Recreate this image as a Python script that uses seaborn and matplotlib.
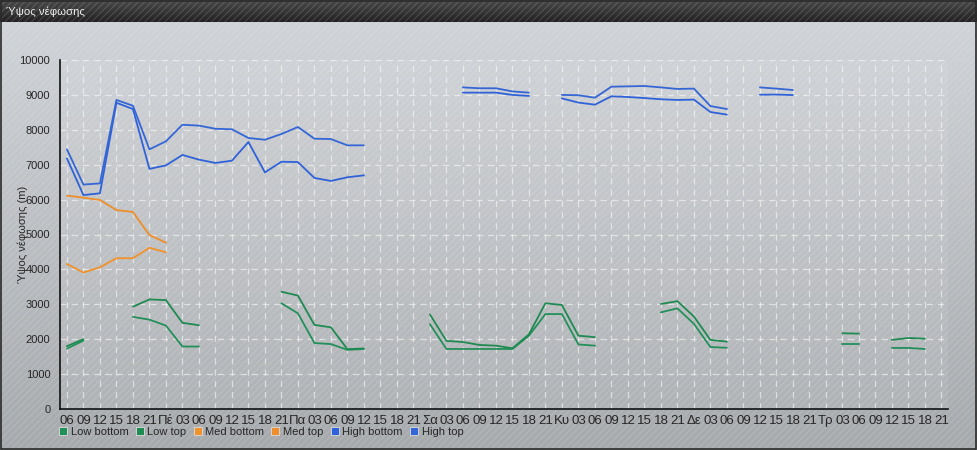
import numpy as np
import pandas as pd
import seaborn as sns
import matplotlib.pyplot as plt
from matplotlib.lines import Line2D
from matplotlib.patches import Rectangle

# 3-hourly slots, first day starts at 06
slot_labels = ['06', '09', '12', '15', '18', '21',
               'Πέ', '03', '06', '09', '12', '15', '18', '21',
               'Πα', '03', '06', '09', '12', '15', '18', '21',
               'Σα', '03', '06', '09', '12', '15', '18', '21',
               'Κυ', '03', '06', '09', '12', '15', '18', '21',
               'Δε', '03', '06', '09', '12', '15', '18', '21',
               'Τρ', '03', '06', '09', '12', '15', '18', '21']

N = None
low_bottom = [1730, 1960, N, N, 2640, 2560,
              2390, 1790, 1790, N, N, N, N, 3030,
              2740, 1890, 1860, 1695, 1720, N, N, N,
              2430, 1720, 1720, 1720, 1720, 1720, 2100, 2720,
              2720, 1850, 1815, N, N, N, 2770, 2885,
              2440, 1775, 1755, N, N, N, N, N,
              N, 1875, 1875, N, 1750, 1750, 1720, N]
low_top = [1800, 2000, N, N, 2930, 3140,
           3120, 2470, 2400, N, N, N, N, 3360,
           3250, 2410, 2340, 1715, 1735, N, N, N,
           2710, 1950, 1920, 1835, 1815, 1740, 2140, 3030,
           2980, 2100, 2060, N, N, N, 3010, 3090,
           2650, 1980, 1930, N, N, N, N, N,
           N, 2170, 2160, N, 1980, 2035, 2015, N]
med_bottom = [4155, 3910, 4060, 4320, 4320, 4620,
              4490, N, N, N, N, N, N, N] + [N] * 40
med_top = [6115, 6055, 5990, 5700, 5645, 4985,
           4765, N, N, N, N, N, N, N] + [N] * 40
high_bottom = [7180, 6130, 6180, 8775, 8595, 6880,
               6980, 7280, 7145, 7050, 7115, 7650, 6780, 7085,
               7075, 6620, 6535, 6640, 6695, N, N, N,
               N, N, 9065, 9065, 9065, 9000, 8970, N,
               8900, 8780, 8720, 8960, 8940, 8910, 8875, 8855,
               8865, 8510, 8435, N, 9005, 9010, 8995, N,
               N, N, N, N, N, N, N, N]
high_top = [7440, 6430, 6465, 8855, 8690, 7440,
            7670, 8145, 8120, 8030, 8015, 7765, 7715, 7880,
            8080, 7745, 7735, 7555, 7555, N, N, N,
            N, N, 9215, 9190, 9190, 9100, 9065, N,
            9000, 8990, 8920, 9235, 9245, 9255, 9215, 9170,
            9180, 8680, 8595, N, 9215, 9180, 9140, N,
            N, N, N, N, N, N, N, N]

series_names = ['Low bottom', 'Low top', 'Med bottom', 'Med top', 'High bottom', 'High top']
series_values = [low_bottom, low_top, med_bottom, med_top, high_bottom, high_top]
colors = ['#23905a', '#1f8a52', '#f0922c', '#ee8e2a', '#2f62d9', '#3566d6']

# long table, a new segment id after every gap so lines break
rows = []
seg = 0
for name, vals in zip(series_names, series_values):
    prev = None
    for i, v in enumerate(vals):
        if v is None:
            prev = None
            continue
        if prev is None:
            seg += 1
        rows.append({'slot': i, 'height': v, 'series': name, 'segment': seg})
        prev = v
df = pd.DataFrame(rows)

sns.set_style('white')
plt.rcParams['font.family'] = ['Liberation Sans', 'DejaVu Sans']
plt.rcParams['hatch.linewidth'] = 0.6

W, H = 978, 450
fig = plt.figure(figsize=(W / 100, H / 100), dpi=100)

# background: gradient + diagonal stripes + title bar
bg = fig.add_axes([0, 0, 1, 1], zorder=-10)
bg.set_axis_off()
grad = np.linspace(0, 1, 256).reshape(-1, 1)
bg.imshow(grad, aspect='auto', extent=[0, 1, 0, 1], origin='lower',
          cmap=sns.blend_palette(['#a7aaad', '#d2d5d9'], as_cmap=True))
bg.add_patch(Rectangle((0, 0), 1, 1, facecolor='none', edgecolor=(1, 1, 1, 0.18),
                       hatch='/////', linewidth=0))
tb = 22 / H
bar = np.linspace(0, 1, 64).reshape(-1, 1)
bg.imshow(bar, aspect='auto', extent=[0, 1, 1 - tb, 1], origin='lower',
          cmap=sns.blend_palette(['#222222', '#4a4a4a'], as_cmap=True))
bg.add_patch(Rectangle((0.001, 0.002), 0.997, 0.996, facecolor='none',
                       edgecolor='#2a2a2a', linewidth=1.2))
bg.set_xlim(0, 1)
bg.set_ylim(0, 1)
bg.text(6 / W, 1 - 12 / H, 'Ύψος νέφωσης', color='#f0f0f0', fontsize=8.2,
        va='center', ha='left')

ax = fig.add_axes([60 / W, 41 / H, 888 / W, 349 / H])
ax.set_facecolor((1, 1, 1, 0.07))

sns.lineplot(data=df, x='slot', y='height', hue='series', units='segment',
             estimator=None, palette=dict(zip(series_names, colors)),
             hue_order=series_names, legend=False, linewidth=1.3, ax=ax)

ax.set_xlim(-0.42, len(slot_labels) - 0.6)
ax.set_ylim(0, 10000)
ax.set_xticks(range(len(slot_labels)))
ax.set_xticklabels(slot_labels)
ax.set_yticks(range(0, 10001, 1000))
ax.tick_params(axis='x', labelsize=9.5, direction='inout', length=6, width=1,
               color='#111111', pad=1)
ax.tick_params(axis='y', labelsize=8, direction='out', length=5, width=1,
               color='#111111', pad=2)
ax.grid(True, color='white', alpha=0.55, linestyle=(0, (5, 4)), linewidth=0.9)
for s in ['top', 'right']:
    ax.spines[s].set_visible(False)
for s in ['left', 'bottom']:
    ax.spines[s].set_color('#111111')
    ax.spines[s].set_linewidth(1.2)
ax.set_xlabel('')
ax.set_ylabel('Ύψος νέφωσης (m)', fontsize=8)
ax.yaxis.set_label_coords(-0.036, 0.5)

handles = [Line2D([], [], linestyle='none', marker='s', markersize=6,
                  markerfacecolor=c, markeredgecolor='#dddddd', markeredgewidth=0.6)
           for c in colors]
fig.legend(handles, series_names, loc='center left', bbox_to_anchor=(54 / W, 1 - 432 / H),
           ncol=6, frameon=False, fontsize=8, handlelength=0.8, handletextpad=0.3,
           columnspacing=0.6, borderaxespad=0)

fig.savefig('out.png', dpi=100)
